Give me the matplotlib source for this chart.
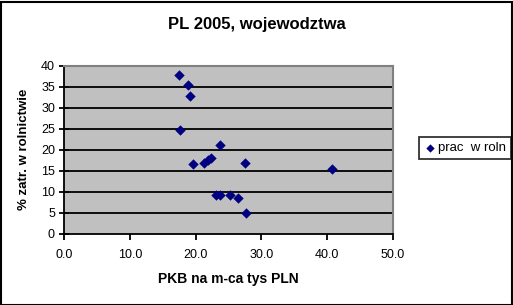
import matplotlib.pyplot as plt
from matplotlib.patches import Rectangle

plt.rcParams["font.family"] = ["Liberation Sans", "DejaVu Sans"]

# PKB per capita (tys PLN) vs. share employed in agriculture (%)
pkb = [17.5, 18.8, 19.1, 17.6, 23.7, 19.6, 21.3, 21.9, 22.4, 27.5,
       40.7, 23.1, 23.7, 25.2, 26.5, 27.7]
rolnictwo = [37.7, 35.4, 32.7, 24.6, 21.1, 16.5, 16.8, 17.5, 18.0, 16.8,
             15.4, 9.2, 9.2, 9.2, 8.4, 4.8]
x_ticks = [0, 10, 20, 30, 40, 50]
y_ticks = [0, 5, 10, 15, 20, 25, 30, 35, 40]


def plot_scatter():
    W, H = 513, 305
    fig = plt.figure(figsize=(W / 100, H / 100), dpi=100, facecolor="white")
    left, right, top, bottom = 64, 393, 65.5, 233.5
    ax = fig.add_axes([left / W, 1 - bottom / H, (right - left) / W,
                       (bottom - top) / H])
    ax.set_facecolor("#C0C0C0")

    ax.scatter(pkb, rolnictwo, marker="D", s=28, color="#000080",
               edgecolors="#000080", linewidths=0, zorder=3,
               label="prac  w roln")

    ax.set_xlim(0, 50)
    ax.set_ylim(0, 40)
    ax.set_xticks(x_ticks)
    ax.set_xticklabels([f"{v:.1f}" for v in x_ticks])
    ax.set_yticks(y_ticks)
    for v in y_ticks[1:-1]:
        ax.axhline(v, color="black", lw=1.3, zorder=1)

    for side in ["top", "right"]:
        ax.spines[side].set_color("#808080")
        ax.spines[side].set_linewidth(1.5)
    for side in ["left", "bottom"]:
        ax.spines[side].set_color("black")
        ax.spines[side].set_linewidth(1.3)
    ax.tick_params(axis="y", direction="inout", length=7, width=1.3,
                   labelsize=9, pad=3)
    ax.tick_params(axis="x", direction="out", length=4, width=1.3,
                   labelsize=9, pad=7)

    ax.set_xlabel("PKB na m-ca tys PLN", fontsize=10, fontweight="bold",
                  labelpad=8)
    ax.set_ylabel("% zatr. w rolnictwie", fontsize=9.5, fontweight="bold",
                  labelpad=8)
    fig.text(256.5 / W, 1 - 29 / H, "PL 2005, wojewodztwa", ha="center",
             va="baseline", fontsize=12, fontweight="bold")

    leg = ax.legend(loc="center left", bbox_to_anchor=(419 / W, 1 - 148 / H),
                    bbox_transform=fig.transFigure, fontsize=9.5,
                    frameon=True, fancybox=False, handletextpad=0.2,
                    handlelength=0.9, borderpad=0.35, borderaxespad=0,
                    markerscale=0.8)
    leg.get_frame().set_edgecolor("black")
    leg.get_frame().set_linewidth(1.3)

    fig.patches.append(Rectangle((0.5 / W, 0.5 / H), 1 - 2 / W, 1 - 2 / H,
                                 transform=fig.transFigure, fill=False,
                                 edgecolor="black", lw=1.5))
    plt.savefig("out.png", dpi=100)
    plt.close()


if __name__ == "__main__":
    plot_scatter()
